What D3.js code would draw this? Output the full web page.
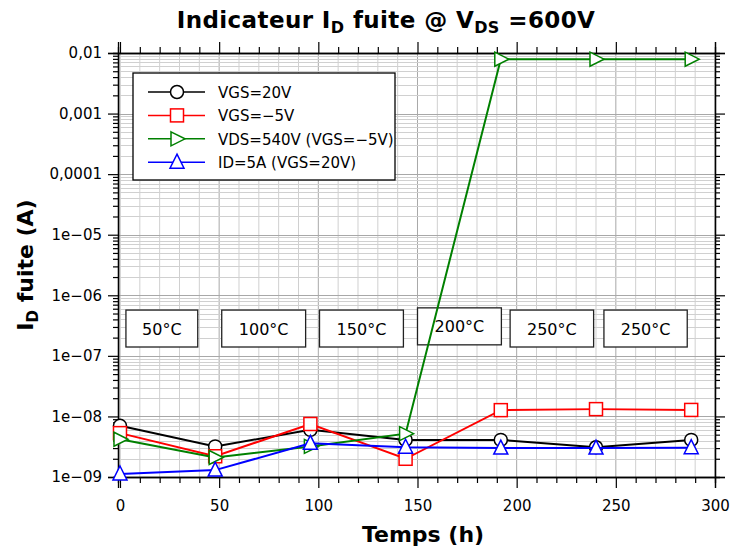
<!DOCTYPE html>
<html>
<head>
<meta charset="utf-8">
<script src="https://cdn.jsdelivr.net/npm/d3@7"></script>
<style>
  html, body { margin: 0; padding: 0; background: #fff; }
  svg { display: block; font-family: "DejaVu Sans", sans-serif; }
</style>
</head>
<body>
<svg id="chart" width="733" height="552"></svg>
<script>
// Leakage current over ageing time (log scale)
const hours = [0, 48, 96, 144, 192, 240, 288];
const vgs20 = [7.0e-9, 3.2e-9, 6.0e-9, 4.1e-9, 4.1e-9, 3.1e-9, 4.1e-9];
const vgsMinus5 = [5.3e-9, 2.2e-9, 7.5e-9, 2.0e-9, 1.27e-8, 1.32e-8, 1.28e-8];
const vds540 = [4.2e-9, 2.1e-9, 3.2e-9, 5.2e-9, 7.9e-3, 7.9e-3, 7.9e-3];
const id5a = [1.12e-9, 1.3e-9, 3.6e-9, 3.1e-9, 3.0e-9, 3.0e-9, 3.05e-9];

const seriesNames = ["VGS=20V", "VGS=\u22125V", "VDS=540V (VGS=\u22125V)", "ID=5A (VGS=20V)"];
const seriesColors = ["#000000", "#ff0000", "#008000", "#0000ff"];
const seriesSymbols = ["circle", "square", "triangleRight", "triangleUp"];

// Temperature steps (hours covered by each label box)
const tempLabels = ["50\u00B0C", "100\u00B0C", "150\u00B0C", "200\u00B0C", "250\u00B0C", "250\u00B0C"];
const tempStart = [3, 51.3, 100.6, 150, 196.7, 244];
const tempEnd = [39.2, 93.6, 142.9, 192.3, 238.8, 286];
const tempHigh = [5.7e-7, 5.7e-7, 5.7e-7, 6.2e-7, 5.7e-7, 5.7e-7];
const tempLow = [1.4e-7, 1.4e-7, 1.4e-7, 1.52e-7, 1.4e-7, 1.4e-7];

const xTicks = [0, 50, 100, 150, 200, 250, 300];
const yTicks = [1e-9, 1e-8, 1e-7, 1e-6, 1e-5, 1e-4, 1e-3, 1e-2];
const yTickLabels = ["1e\u221209", "1e\u221208", "1e\u221207", "1e\u221206", "1e\u221205", "0,0001", "0,001", "0,01"];

const svg = d3.select("#chart");
const plotL = 118, plotR = 715, plotT = 53, plotB = 477;

const x = d3.scaleLinear().domain([-1, 300]).range([plotL, plotR]);
const y = d3.scaleLog().domain([1e-9, 1e-2]).range([plotB, plotT]);

const xMinor = d3.range(0, 301, 10);
const yMinor = [];
for (let e = -9; e < -2; e++) for (let m = 1; m < 10; m++) yMinor.push(m * Math.pow(10, e));
yMinor.push(1e-2);
const isMajorY = d => yTicks.some(t => Math.abs(Math.log10(t) - Math.log10(d)) < 1e-6);

// grid
const grid = svg.append("g");
grid.selectAll("line.gx").data(xMinor).join("line")
  .attr("x1", d => x(d)).attr("x2", d => x(d))
  .attr("y1", plotT).attr("y2", plotB)
  .attr("stroke", d => d % 50 === 0 ? "#a8a8a8" : "#d0d0d0").attr("stroke-width", 1);
grid.selectAll("line.gy").data(yMinor).join("line")
  .attr("x1", plotL).attr("x2", plotR)
  .attr("y1", d => Math.round(y(d)) + 0.5).attr("y2", d => Math.round(y(d)) + 0.5)
  .attr("stroke", d => isMajorY(d) ? "#a8a8a8" : "#d0d0d0").attr("stroke-width", 1);

// axes
function styleAxis(g) {
  g.selectAll("path.domain").attr("stroke", "#000").attr("stroke-width", 1.3);
  g.selectAll(".tick line").attr("stroke", "#000").attr("stroke-width", 1.2);
  g.selectAll(".tick text").attr("fill", "#000").style("font-size", "15px")
    .style("font-family", "'DejaVu Sans', sans-serif");
}
const fmtY = d => yTickLabels[yTicks.findIndex(t => Math.abs(Math.log10(t) - Math.log10(d)) < 1e-6)];
const minorX = xMinor.filter(d => d % 50 !== 0);
const minorY = yMinor.filter(d => !isMajorY(d));

svg.append("g").attr("transform", `translate(0,${plotB})`)
  .call(d3.axisBottom(x).tickValues(minorX).tickSize(6).tickFormat(""))
  .call(styleAxis);
svg.append("g").attr("transform", `translate(0,${plotB})`)
  .call(d3.axisBottom(x).tickValues(xTicks).tickSize(11).tickPadding(12).tickFormat(d3.format("d")))
  .call(styleAxis);
svg.append("g").attr("transform", `translate(0,${plotT})`)
  .call(d3.axisTop(x).tickValues(minorX).tickSize(6).tickFormat(""))
  .call(styleAxis);
svg.append("g").attr("transform", `translate(0,${plotT})`)
  .call(d3.axisTop(x).tickValues(xTicks).tickSize(11).tickFormat(""))
  .call(styleAxis);
svg.append("g").attr("transform", `translate(${plotL},0)`)
  .call(d3.axisLeft(y).tickValues(minorY).tickSize(5).tickFormat(""))
  .call(styleAxis);
svg.append("g").attr("transform", `translate(${plotL},0)`)
  .call(d3.axisLeft(y).tickValues(yTicks).tickSize(10).tickPadding(6).tickFormat(fmtY))
  .call(styleAxis);
svg.append("g").attr("transform", `translate(${plotR},0)`)
  .call(d3.axisRight(y).tickValues(minorY).tickSize(5).tickFormat(""))
  .call(styleAxis);
svg.append("g").attr("transform", `translate(${plotR},0)`)
  .call(d3.axisRight(y).tickValues(yTicks).tickSize(10).tickFormat(""))
  .call(styleAxis);

// temperature boxes
const tg = svg.append("g");
tempLabels.forEach((t, i) => {
  const x0 = x(tempStart[i]), x1 = x(tempEnd[i]);
  const y0 = y(tempHigh[i]), y1 = y(tempLow[i]);
  tg.append("rect").attr("x", x0).attr("y", y0).attr("width", x1 - x0).attr("height", y1 - y0)
    .attr("fill", "#fff").attr("stroke", "#222").attr("stroke-width", 1.3);
  tg.append("text").attr("x", (x0 + x1) / 2).attr("y", (y0 + y1) / 2 + 6)
    .attr("text-anchor", "middle").style("font-size", "16px").text(t);
});

// markers
function drawSymbol(g, type, cx, cy, color) {
  if (type === "circle") {
    g.append("circle").attr("cx", cx).attr("cy", cy).attr("r", 6.5)
      .attr("fill", "#fff").attr("stroke", color).attr("stroke-width", 1.5);
  } else if (type === "square") {
    g.append("rect").attr("x", cx - 6.5).attr("y", cy - 6.5).attr("width", 13).attr("height", 13)
      .attr("fill", "#fff").attr("stroke", color).attr("stroke-width", 1.5);
  } else if (type === "triangleRight") {
    g.append("path").attr("d", `M${cx - 6},${cy - 7}L${cx + 8},${cy}L${cx - 6},${cy + 7}Z`)
      .attr("fill", "#fff").attr("stroke", color).attr("stroke-width", 1.5);
  } else {
    g.append("path").attr("d", `M${cx},${cy - 8}L${cx + 7},${cy + 6}L${cx - 7},${cy + 6}Z`)
      .attr("fill", "#fff").attr("stroke", color).attr("stroke-width", 1.5);
  }
}

const allSeries = [vgs20, vgsMinus5, vds540, id5a];
const line = d3.line().x(d => x(d[0])).y(d => y(d[1]));
allSeries.forEach((vals, i) => {
  const g = svg.append("g");
  const pts = hours.map((h, j) => [h, vals[j]]);
  g.append("path").attr("d", line(pts)).attr("fill", "none")
    .attr("stroke", seriesColors[i]).attr("stroke-width", 2);
  pts.forEach(p => drawSymbol(g, seriesSymbols[i], x(p[0]), y(p[1]), seriesColors[i]));
});

// legend
const lg = svg.append("g");
lg.append("rect").attr("x", 133).attr("y", 73).attr("width", 262).attr("height", 107)
  .attr("fill", "#fff").attr("stroke", "#000").attr("stroke-width", 1.3);
seriesNames.forEach((n, i) => {
  const ly = 92 + i * 23.4;
  lg.append("line").attr("x1", 148).attr("x2", 205).attr("y1", ly).attr("y2", ly)
    .attr("stroke", seriesColors[i]).attr("stroke-width", 1.5);
  drawSymbol(lg, seriesSymbols[i], 177, ly, seriesColors[i]);
  lg.append("text").attr("x", 218).attr("y", ly + 6).style("font-size", "15px").text(n);
});

// titles
const title = svg.append("text").attr("x", 386).attr("y", 28).attr("text-anchor", "middle")
  .style("font-size", "23px").style("font-weight", "bold").style("letter-spacing", "0.4px");
title.append("tspan").text("Indicateur I");
title.append("tspan").attr("dy", 5).style("font-size", "16px").text("D");
title.append("tspan").attr("dy", -5).text(" fuite @ V");
title.append("tspan").attr("dy", 5).style("font-size", "16px").text("DS");
title.append("tspan").attr("dy", -5).text(" =600V");

svg.append("text").attr("x", 423).attr("y", 542).attr("text-anchor", "middle")
  .style("font-size", "22px").style("font-weight", "bold").text("Temps (h)");

const yl = svg.append("text").attr("transform", `translate(33,${(plotT + plotB) / 2}) rotate(-90)`)
  .attr("text-anchor", "middle").style("font-size", "22px").style("font-weight", "bold");
yl.append("tspan").text("I");
yl.append("tspan").attr("dy", 5).style("font-size", "15px").text("D");
yl.append("tspan").attr("dy", -5).text(" fuite (A)");
</script>
</body>
</html>
